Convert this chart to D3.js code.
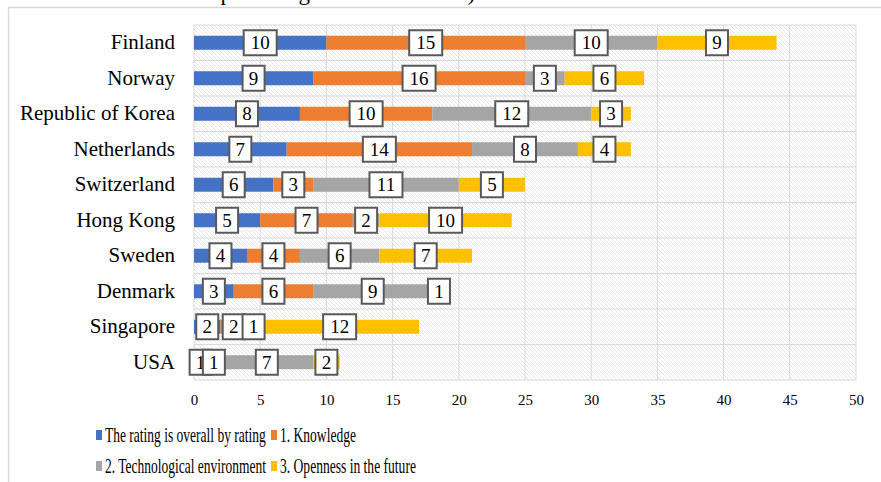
<!DOCTYPE html>
<html>
<head>
<meta charset="utf-8">
<script src="https://cdn.jsdelivr.net/npm/d3@7"></script>
<style>
  body { margin: 0; background: #fff; }
  svg { display: block; }
  svg text { font-family: 'Liberation Serif', 'DejaVu Serif', serif; }
</style>
</head>
<body>
<div id="chartArea"></div>
<script>
var countries = ['Finland', 'Norway', 'Republic of Korea', 'Netherlands', 'Switzerland',
    'Hong Kong', 'Sweden', 'Denmark', 'Singapore', 'USA'];
var seriesNames = ['The rating is overall by rating', '1. Knowledge',
    '2. Technological environment', '3. Openness in the future'];
var overall = [10, 9, 8, 7, 6, 5, 4, 3, 2, 1];
var knowledge = [15, 16, 10, 14, 3, 7, 4, 6, 2, 1];
var technology = [10, 3, 12, 8, 11, 2, 6, 9, 1, 7];
var openness = [9, 6, 3, 4, 5, 10, 7, 1, 12, 2];
var xTicks = [0, 5, 10, 15, 20, 25, 30, 35, 40, 45, 50];
var colors = ['#4472C4', '#ED7D31', '#A5A5A5', '#FFC000'];

var W = 881, H = 482;
var margin = { top: 25, right: 25, bottom: 102, left: 194 };
var w = W - margin.left - margin.right,
    h = H - margin.top - margin.bottom;
var serif = "'Liberation Serif', serif";

var svg = d3.select('#chartArea').append('svg')
    .attr('width', W)
    .attr('height', H);

// hatch pattern for plot background
var defs = svg.append('defs');
var pat = defs.append('pattern')
    .attr('id', 'hatch')
    .attr('patternUnits', 'userSpaceOnUse')
    .attr('width', 4).attr('height', 4);
pat.append('path')
    .attr('d', 'M-1,-1 L5,5 M-1,3 L1,5 M3,-1 L5,1')
    .attr('stroke', '#e2e2e2')
    .attr('stroke-width', 0.8);

// text of the document cut off above the chart
svg.append('text')
    .attr('x', 22).attr('y', 0)
    .attr('font-family', serif)
    .attr('font-size', 23)
    .attr('fill', '#000')
    .text('sectoral allocation of percentage of world robots).');

// chart frame
svg.append('rect')
    .attr('x', 8.5).attr('y', 7.5)
    .attr('width', W + 20).attr('height', H + 20)
    .attr('fill', '#fff')
    .attr('stroke', '#d9d9d9')
    .attr('stroke-width', 1.5);

var g = svg.append('g')
    .attr('transform', 'translate(' + margin.left + ',' + margin.top + ')');

var xScale = d3.scaleLinear().domain([0, 50]).range([0, w]);
var yScale = d3.scaleBand().domain(countries).range([0, h]);

g.append('rect')
    .attr('width', w).attr('height', h)
    .attr('fill', 'url(#hatch)');

// gridlines
g.selectAll('.vgrid')
    .data(xTicks)
    .enter().append('line')
    .attr('x1', function(d) { return xScale(d); })
    .attr('x2', function(d) { return xScale(d); })
    .attr('y1', 0).attr('y2', h)
    .attr('stroke', '#d9d9d9');

g.selectAll('.hgrid')
    .data(d3.range(countries.length + 1))
    .enter().append('line')
    .attr('x1', 0).attr('x2', w)
    .attr('y1', function(i) { return i * yScale.step(); })
    .attr('y2', function(i) { return i * yScale.step(); })
    .attr('stroke', '#d9d9d9');

// stacked data
var rows = countries.map(function(c, i) {
    return { country: c, vals: [overall[i], knowledge[i], technology[i], openness[i]] };
});
var segs = [];
rows.forEach(function(r) {
    var acc = 0;
    r.vals.forEach(function(v, k) {
        segs.push({ country: r.country, k: k, v: v, x0: acc, x1: acc + v });
        acc += v;
    });
});

var barH = 14;
g.selectAll('.bar')
    .data(segs)
    .enter().append('rect')
    .attr('x', function(d) { return xScale(d.x0); })
    .attr('y', function(d) { return yScale(d.country) + yScale.bandwidth() / 2 - barH / 2; })
    .attr('width', function(d) { return xScale(d.x1) - xScale(d.x0); })
    .attr('height', barH)
    .attr('fill', function(d) { return colors[d.k]; });

// data labels in boxes
var lab = g.selectAll('.lab')
    .data(segs)
    .enter().append('g')
    .attr('transform', function(d) {
        return 'translate(' + xScale((d.x0 + d.x1) / 2) + ',' +
            (yScale(d.country) + yScale.bandwidth() / 2) + ')';
    });
lab.append('rect')
    .attr('x', function(d) { return d.v >= 10 ? -16.5 : -11; })
    .attr('y', -12.5)
    .attr('width', function(d) { return d.v >= 10 ? 33 : 22; })
    .attr('height', 25)
    .attr('fill', '#fff')
    .attr('stroke', '#595959')
    .attr('stroke-width', 2);
lab.append('text')
    .attr('text-anchor', 'middle')
    .attr('y', 6.5)
    .attr('font-family', serif)
    .attr('font-size', 19)
    .attr('fill', '#000')
    .text(function(d) { return d.v; });

// category labels
g.selectAll('.cat')
    .data(countries)
    .enter().append('text')
    .attr('x', -19)
    .attr('y', function(d) { return yScale(d) + yScale.bandwidth() / 2 + 6.5; })
    .attr('text-anchor', 'end')
    .attr('font-family', serif)
    .attr('font-size', 21)
    .attr('fill', '#000')
    .text(function(d) { return d; });

// x axis labels
var xAxis = d3.axisBottom(xScale).tickValues(xTicks).tickSize(0).tickPadding(14);
var ax = g.append('g')
    .attr('transform', 'translate(0,' + h + ')')
    .call(xAxis);
ax.attr('font-family', serif);
ax.select('.domain').remove();
ax.selectAll('text')
    .attr('font-family', serif)
    .attr('font-size', 15)
    .attr('fill', '#000');

// legend (text squeezed horizontally like the original)
var legendItems = [
    { i: 0, x: 96, y: 430, tx: 105, tl: 161 },
    { i: 1, x: 271, y: 430, tx: 280, tl: 76 },
    { i: 2, x: 96, y: 461, tx: 105, tl: 161 },
    { i: 3, x: 271, y: 461, tx: 280, tl: 136 }
];
var leg = svg.selectAll('.leg')
    .data(legendItems)
    .enter().append('g');
leg.append('rect')
    .attr('x', function(d) { return d.x; })
    .attr('y', function(d) { return d.y; })
    .attr('width', 6).attr('height', 10)
    .attr('fill', function(d) { return colors[d.i]; });
leg.append('text')
    .attr('x', 0)
    .attr('y', 0)
    .attr('font-family', serif)
    .attr('font-size', 20)
    .attr('fill', '#000')
    .text(function(d) { return seriesNames[d.i]; })
    .attr('transform', function(d) {
        var s = d.tl / this.getComputedTextLength();
        return 'translate(' + d.tx + ',' + (d.y + 12) + ') scale(' + s + ',1)';
    });
</script>
</body>
</html>
